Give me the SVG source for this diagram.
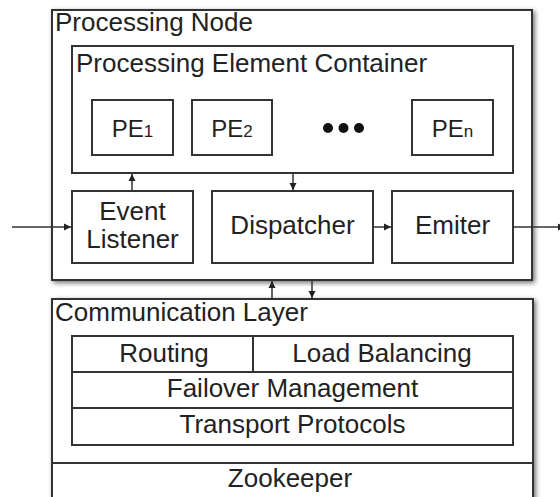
<svg xmlns="http://www.w3.org/2000/svg" width="560" height="497" viewBox="0 0 560 497">
<style>
.box{fill:#fff;stroke:#333;stroke-width:2}
.inner{fill:none;stroke:#333;stroke-width:2}
.t{font-family:"Liberation Sans",Arial,sans-serif;font-size:26px;fill:#222}
.pe{font-family:"Liberation Sans",Arial,sans-serif;font-size:24px;fill:#222}
.c{stroke:#333;stroke-width:1.5;fill:none}
</style>
<defs>
<filter id="sh" x="-5%" y="-5%" width="110%" height="110%">
<feDropShadow dx="2" dy="2" stdDeviation="2.5" flood-color="#000" flood-opacity="0.55"/>
</filter>
<marker id="ah" markerWidth="8" markerHeight="8" refX="7" refY="4" orient="auto" markerUnits="userSpaceOnUse">
<path d="M0,0.5 L7,4 L0,7.5 Z" fill="#222"/>
</marker>
</defs>
<g id="processing-node">
<rect class="box" x="52" y="10" width="480" height="270" filter="url(#sh)"/>
<text class="t" x="55" y="31">Processing Node</text>
</g>
<g id="pe-container">
<rect class="inner" x="72" y="46" width="441" height="127"/>
<text class="t" x="76" y="72">Processing Element Container</text>
</g>
<g id="pe1">
<rect class="inner" x="92" y="100" width="81" height="55"/>
<text class="pe" x="132.5" y="137" text-anchor="middle">PE<tspan font-size="17">1</tspan></text>
</g>
<g id="pe2">
<rect class="inner" x="192" y="100" width="80" height="55"/>
<text class="pe" x="232" y="137" text-anchor="middle">PE<tspan font-size="17">2</tspan></text>
</g>
<g id="dots">
<circle cx="328" cy="128" r="5" fill="#111"/>
<circle cx="343.5" cy="128" r="5" fill="#111"/>
<circle cx="359" cy="128" r="5" fill="#111"/>
</g>
<g id="pen">
<rect class="inner" x="412" y="100" width="81" height="55"/>
<text class="pe" x="452.5" y="137" text-anchor="middle">PE<tspan font-size="17">n</tspan></text>
</g>
<g id="event-listener">
<rect class="inner" x="72" y="191" width="121" height="72"/>
<text class="t" x="132.5" y="220" text-anchor="middle">Event</text>
<text class="t" x="132.5" y="248" text-anchor="middle">Listener</text>
</g>
<g id="dispatcher">
<rect class="inner" x="212" y="191" width="161" height="72"/>
<text class="t" x="292.5" y="234" text-anchor="middle">Dispatcher</text>
</g>
<g id="emiter">
<rect class="inner" x="392" y="191" width="121" height="72"/>
<text class="t" x="452.5" y="234" text-anchor="middle">Emiter</text>
</g>
<g id="communication-layer">
<rect class="box" x="52" y="299" width="481" height="215" filter="url(#sh)"/>
<text class="t" x="55" y="321">Communication Layer</text>
<line class="inner" x1="52" y1="463" x2="533" y2="463"/>
</g>
<g id="routing">
<rect class="inner" x="72" y="336" width="181" height="36"/>
<text class="t" x="164" y="362" text-anchor="middle">Routing</text>
</g>
<g id="load-balancing">
<rect class="inner" x="253" y="336" width="260" height="36"/>
<text class="t" x="382" y="362" text-anchor="middle">Load Balancing</text>
</g>
<g id="failover">
<rect class="inner" x="72" y="372" width="441" height="36"/>
<text class="t" x="292.5" y="397" text-anchor="middle">Failover Management</text>
</g>
<g id="transport">
<rect class="inner" x="72" y="408" width="441" height="37"/>
<text class="t" x="292.5" y="433" text-anchor="middle">Transport Protocols</text>
</g>
<g id="zookeeper">
<text class="t" x="290" y="487" text-anchor="middle">Zookeeper</text>
</g>
<g id="connectors">
<line class="c" x1="12" y1="227" x2="71" y2="227" marker-end="url(#ah)"/>
<line class="c" x1="132" y1="190" x2="132" y2="174" marker-end="url(#ah)"/>
<line class="c" x1="293" y1="174" x2="293" y2="190" marker-end="url(#ah)"/>
<line class="c" x1="373" y1="227" x2="391" y2="227" marker-end="url(#ah)"/>
<line class="c" x1="513" y1="227" x2="565" y2="227" marker-end="url(#ah)"/>
<line class="c" x1="272" y1="298" x2="272" y2="281" marker-end="url(#ah)"/>
<line class="c" x1="312" y1="281" x2="312" y2="298" marker-end="url(#ah)"/>
</g>
</svg>
